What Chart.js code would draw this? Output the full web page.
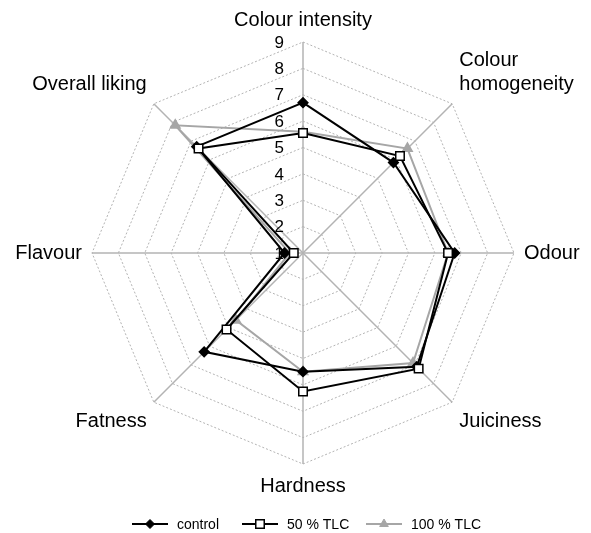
<!DOCTYPE html>
<html>
<head>
<meta charset="utf-8">
<script src="https://cdn.jsdelivr.net/npm/chart.js@4"></script>
<style>
  html, body { margin: 0; padding: 0; background: #fff; }
  #wrap { width: 591px; height: 533px; }
</style>
</head>
<body>
<div id="wrap"><canvas id="sensory-chart" width="591" height="533"></canvas></div>
<script>
const attributes = ['Colour intensity', ['Colour', 'homogeneity'], 'Odour', 'Juiciness', 'Hardness', 'Fatness', 'Flavour', 'Overall liking'];
const control = [6.7, 5.85, 6.75, 7.1, 5.5, 6.3, 1.7, 6.7];
const tlc50 = [5.55, 6.2, 6.5, 7.2, 6.25, 5.1, 1.35, 6.6];
const tlc100 = [5.6, 6.6, 6.5, 6.9, 5.5, 4.6, 1.5, 7.85];
const tickValues = [1, 2, 3, 4, 5, 6, 7, 8, 9];

const FONT = '"Liberation Sans", Arial, sans-serif';
const GREY = '#a6a6a6';

// tick numbers to the left of the vertical axis, including the "1" at the centre
const tickLabels = {
  id: 'tickLabels',
  afterDatasetsDraw(chart) {
    const r = chart.scales.r;
    const ctx = chart.ctx;
    ctx.save();
    ctx.font = '17px ' + FONT;
    ctx.fillStyle = '#000';
    ctx.textAlign = 'right';
    ctx.textBaseline = 'middle';
    tickValues.forEach((v) => {
      const d = r.getDistanceFromCenterForValue(v);
      ctx.fillText(String(v), r.xCenter - 19, r.yCenter - d + 1);
    });
    ctx.restore();
  }
};

// legend with a line through the marker, like the original
const lineLegend = {
  id: 'lineLegend',
  afterDraw(chart) {
    const ctx = chart.ctx;
    const y = 524;
    const items = [
      { x: 132, ds: 0 },
      { x: 242, ds: 1 },
      { x: 366, ds: 2 }
    ];
    ctx.save();
    ctx.font = '14px ' + FONT;
    ctx.textBaseline = 'middle';
    ctx.textAlign = 'left';
    items.forEach((it) => {
      const ds = chart.data.datasets[it.ds];
      ctx.strokeStyle = ds.borderColor;
      ctx.lineWidth = ds.borderWidth;
      ctx.beginPath();
      ctx.moveTo(it.x, y);
      ctx.lineTo(it.x + 36, y);
      ctx.stroke();
      ctx.fillStyle = ds.pointBackgroundColor;
      ctx.strokeStyle = ds.pointBorderColor;
      ctx.lineWidth = ds.pointBorderWidth || 1;
      Chart.helpers.drawPoint(ctx, {
        pointStyle: ds.pointStyle,
        radius: ds.pointRadius,
        borderWidth: ds.pointBorderWidth || 1
      }, it.x + 18, y);
      ctx.fillStyle = '#000';
      ctx.fillText(ds.label, it.x + 45, y + 1);
    });
    ctx.restore();
  }
};

const chart = new Chart(document.getElementById('sensory-chart'), {
  type: 'radar',
  data: {
    labels: attributes,
    datasets: [
      {
        label: 'control',
        data: control,
        borderColor: '#000',
        borderWidth: 2,
        fill: false,
        pointStyle: 'rectRot',
        pointRadius: 4.5,
        pointBackgroundColor: '#000',
        pointBorderColor: '#000',
        order: 2
      },
      {
        label: '50 % TLC',
        data: tlc50,
        borderColor: '#000',
        borderWidth: 2,
        fill: false,
        pointStyle: 'rect',
        pointRadius: 6,
        pointBackgroundColor: '#fff',
        pointBorderColor: '#000',
        pointBorderWidth: 1.5,
        order: 1
      },
      {
        label: '100 % TLC',
        data: tlc100,
        borderColor: GREY,
        borderWidth: 2,
        fill: false,
        pointStyle: 'triangle',
        pointRadius: 5,
        pointBackgroundColor: GREY,
        pointBorderColor: GREY,
        order: 3
      }
    ]
  },
  options: {
    responsive: false,
    animation: false,
    layout: { padding: { top: 8, bottom: 35, left: 6, right: 2 } },
    plugins: {
      legend: { display: false },
      tooltip: { enabled: false }
    },
    elements: { line: { tension: 0 } },
    scales: {
      r: {
        min: 1,
        max: 9,
        ticks: { stepSize: 1, display: false },
        grid: {
          circular: false,
          color: '#b3b3b3',
          lineWidth: 1
        },
        border: { dash: [2, 2] },
        angleLines: { color: '#b3b3b3', lineWidth: 1.5 },
        pointLabels: {
          color: '#000',
          padding: 10,
          font: { family: FONT, size: 20 }
        }
      }
    }
  },
  plugins: [tickLabels, lineLegend]
});
</script>
</body>
</html>
